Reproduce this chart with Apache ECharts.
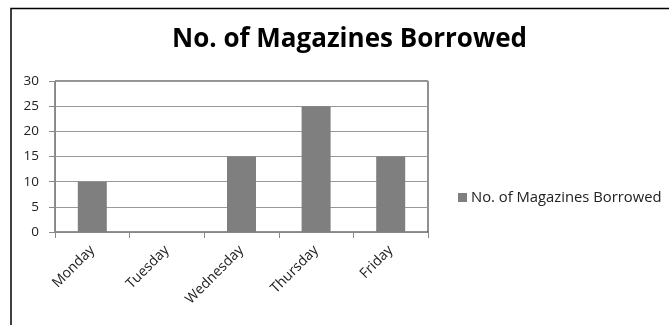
<!DOCTYPE html>
<html>
<head>
<meta charset="utf-8">
<script src="https://cdn.jsdelivr.net/npm/echarts@6/dist/echarts.min.js"></script>
<style>
  html, body { margin: 0; padding: 0; background: #fff; }
  #chart { width: 669px; height: 325px; }
</style>
</head>
<body>
<div id="chart"></div>
<script>
// data
const titleText = 'No. of Magazines Borrowed'
const days = ['Monday', 'Tuesday', 'Wednesday', 'Thursday', 'Friday']
const borrowed = [10, 0, 15, 25, 15]
const seriesName = 'No. of Magazines Borrowed'

const font = 'Open Sans'

const chart = echarts.init(document.getElementById('chart'))

chart.setOption({
  animation: false,
  title: {
    text: titleText,
    left: 167,
    top: 22,
    textStyle: {
      fontFamily: font,
      fontSize: 26,
      fontWeight: 'bold',
      color: '#000'
    }
  },
  legend: {
    left: 453,
    top: 185,
    itemWidth: 9,
    itemHeight: 9,
    itemGap: 4,
    icon: 'rect',
    data: [seriesName],
    textStyle: { fontFamily: font, fontSize: 14.8, color: '#222', padding: [0, 0, 0, -1] }
  },
  grid: {
    left: 55,
    right: 241,
    top: 81,
    bottom: 93,
    show: true,
    borderColor: '#222',
    borderWidth: 1,
    backgroundColor: 'transparent'
  },
  xAxis: {
    type: 'category',
    data: days,
    axisLine: { lineStyle: { color: '#888' } },
    axisTick: { show: true, length: 6, inside: false, alignWithLabel: false, lineStyle: { color: '#888' } },
    axisLabel: {
      rotate: 45,
      margin: 16,
      fontFamily: font,
      fontSize: 14,
      color: '#222'
    }
  },
  yAxis: {
    type: 'value',
    min: 0,
    max: 30,
    interval: 5,
    axisLine: { show: true, lineStyle: { color: '#888' } },
    axisTick: { show: true, length: 6, lineStyle: { color: '#888' } },
    splitLine: { lineStyle: { color: '#999' } },
    axisLabel: {
      margin: 16,
      fontFamily: font,
      fontSize: 13.5,
      color: '#222'
    }
  },
  series: [{
    name: seriesName,
    type: 'bar',
    data: borrowed,
    barWidth: 29,
    itemStyle: { color: '#7f7f7f' }
  }],
  graphic: [{
    type: 'polyline',
    shape: { points: [[11, 325], [11, 8.5], [669, 8.5]] },
    style: { stroke: '#000', lineWidth: 1.5, fill: null }
  }]
})
</script>
</body>
</html>
